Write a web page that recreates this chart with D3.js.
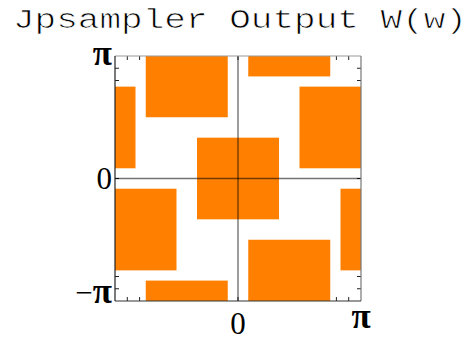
<!DOCTYPE html>
<html>
<head>
<meta charset="utf-8">
<script src="https://cdn.jsdelivr.net/npm/d3@7"></script>
<style>
  html, body { margin: 0; padding: 0; background: #fff; }
  svg { display: block; }
</style>
</head>
<body>
<svg id="chart" width="469" height="340"></svg>
<script>
// Passband cells of W(w) in units of π, clipped to [-π, π]²
const cellX0 = [-3/4, 1/12, 1/2, -1/3, -1, -1, -3/4, 1/12, 5/6];
const cellX1 = [-1/12, 3/4, 1, 1/3, -5/6, -1/2, -1/12, 3/4, 1];
const cellY0 = [1/2, 5/6, 1/12, -1/3, 1/12, -3/4, -1, -1, -3/4];
const cellY1 = [1, 1, 3/4, 1/3, 3/4, -1/12, -5/6, -1/2, -1/12];

// Axis labels (values in units of π)
const xTickValues = [0, 1];
const xTickLabels = ["0", "π"];
const yTickValues = [-1, 0, 1];
const yTickLabels = ["−π", "0", "π"];
// Small frame ticks every 0.1π
const minorTicks = d3.range(-9, 10).map(k => k / 10);

const title = "Jpsampler Output W(w)";

const svg = d3.select("#chart");
const plotLeft = 115, plotRight = 361, plotTop = 56, plotBottom = 301;

const x = d3.scaleLinear().domain([-1, 1]).range([plotLeft, plotRight]);
const y = d3.scaleLinear().domain([-1, 1]).range([plotBottom, plotTop]);

const cells = cellX0.map((_, i) => ({x0: cellX0[i], x1: cellX1[i], y0: cellY0[i], y1: cellY1[i]}));

// Title (thin monospace)
svg.append("text")
  .attr("x", 13).attr("y", 28)
  .attr("textLength", 454)
  .attr("lengthAdjust", "spacingAndGlyphs")
  .style("font-family", "'Liberation Mono', 'Courier New', monospace")
  .style("font-size", "27px")
  .attr("fill", "#000")
  .attr("stroke", "#fff")
  .attr("stroke-width", 0.7)
  .text(title);

// Frame ticks (inside), drawn beneath the cells
const tickLen = 4;
const tg = svg.append("g").attr("stroke", "#222").attr("stroke-width", 1);
minorTicks.forEach(t => {
  tg.append("line").attr("x1", x(t)).attr("x2", x(t)).attr("y1", plotBottom).attr("y2", plotBottom - tickLen);
  tg.append("line").attr("x1", x(t)).attr("x2", x(t)).attr("y1", plotTop).attr("y2", plotTop + tickLen);
  tg.append("line").attr("y1", y(t)).attr("y2", y(t)).attr("x1", plotLeft).attr("x2", plotLeft + tickLen);
  tg.append("line").attr("y1", y(t)).attr("y2", y(t)).attr("x1", plotRight).attr("x2", plotRight - tickLen);
});

// Passband cells
svg.append("g").selectAll("rect").data(cells).join("rect")
  .attr("x", d => x(d.x0))
  .attr("y", d => y(d.y1))
  .attr("width", d => x(d.x1) - x(d.x0))
  .attr("height", d => y(d.y0) - y(d.y1))
  .attr("fill", "#ff8000");

// Axes through the origin
svg.append("line").attr("x1", plotLeft).attr("x2", plotRight).attr("y1", y(0)).attr("y2", y(0))
  .attr("stroke", "#000").attr("stroke-opacity", 0.55).attr("stroke-width", 1.4);
svg.append("line").attr("x1", x(0)).attr("x2", x(0)).attr("y1", plotTop).attr("y2", plotBottom)
  .attr("stroke", "#000").attr("stroke-opacity", 0.55).attr("stroke-width", 1.4);

// Frame
svg.append("line").attr("x1", plotLeft).attr("x2", plotRight).attr("y1", plotTop).attr("y2", plotTop)
  .attr("stroke", "#999").attr("stroke-width", 1);
svg.append("line").attr("x1", plotRight).attr("x2", plotRight).attr("y1", plotTop).attr("y2", plotBottom)
  .attr("stroke", "#777").attr("stroke-width", 1.2);
svg.append("line").attr("x1", plotLeft).attr("x2", plotRight).attr("y1", plotBottom).attr("y2", plotBottom)
  .attr("stroke", "#333").attr("stroke-width", 1.2);
svg.append("line").attr("x1", plotLeft).attr("x2", plotLeft).attr("y1", plotTop).attr("y2", plotBottom)
  .attr("stroke", "#222").attr("stroke-width", 1.2);

// Tick labels: digits in serif, π drawn larger and heavier
const labelFont = "'Liberation Serif', 'Times New Roman', serif";
function writeLabel(sel, label) {
  sel.style("font-family", labelFont).style("font-size", "31px");
  if (label === "0") { sel.text(label); return; }
  if (label.startsWith("−")) {
    sel.append("tspan").text("−");
  }
  sel.append("tspan")
    .style("font-size", "35px")
    .style("font-weight", "bold")
    .text("π");
}

const yLabelDy = [2, 10.8, 9];
svg.append("g").selectAll("text").data(yTickValues).join("text")
  .attr("x", plotLeft - 3)
  .attr("y", (d, i) => y(d) + yLabelDy[i])
  .attr("text-anchor", "end")
  .each(function(d, i) { writeLabel(d3.select(this), yTickLabels[i]); });

const xLabelBase = [334, 328];
svg.append("g").selectAll("text").data(xTickValues).join("text")
  .attr("x", d => x(d))
  .attr("y", (d, i) => xLabelBase[i])
  .attr("text-anchor", "middle")
  .each(function(d, i) { writeLabel(d3.select(this), xTickLabels[i]); });
</script>
</body>
</html>
